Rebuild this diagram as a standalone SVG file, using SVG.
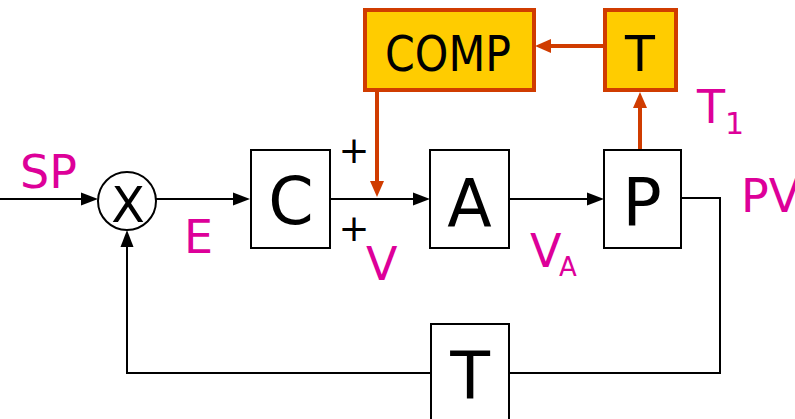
<svg xmlns="http://www.w3.org/2000/svg" width="795" height="419" viewBox="0 0 795 419">
<style>
.box{fill:#ffffff;stroke:#000;stroke-width:2}
.ybox{fill:#ffcc00;stroke:#d03c00;stroke-width:4}
.ln{fill:none;stroke:#000;stroke-width:2}
.rl{fill:none;stroke:#d03c00;stroke-width:4}
.ah{fill:#000}
.rh{fill:#d03c00}
.t{font-family:"DejaVu Sans","Liberation Sans",sans-serif;fill:#000}
.lab{font-family:"DejaVu Sans","Liberation Sans",sans-serif;fill:#dd0099}
</style>
<g id="connectors">
<path class="ln" d="M0,199 H84"/>
<polygon class="ah" points="98,199 81,192.5 81,205.5"/>
<path class="ln" d="M156,199 H236"/>
<polygon class="ah" points="250,199 233,192.5 233,205.5"/>
<path class="ln" d="M330,199 H416"/>
<polygon class="ah" points="430,199 413,192.5 413,205.5"/>
<path class="ln" d="M509,199 H590"/>
<polygon class="ah" points="604,199 587,192.5 587,205.5"/>
<path class="ln" d="M681,198 H720 V373 H509"/>
<path class="ln" d="M431,373 H127 V244"/>
<polygon class="ah" points="127,230 120.5,247 133.5,247"/>
<path class="rl" d="M377,91 V184"/>
<polygon class="rh" points="377,197 370,181 384,181"/>
<path class="rl" d="M604,46 H548"/>
<polygon class="rh" points="535,46 551,39 551,53"/>
<path class="rl" d="M640,150 V105"/>
<polygon class="rh" points="640,92 633,108 647,108"/>
</g>
<g id="sum">
<circle cx="127" cy="201" r="29" fill="#fff" stroke="#000" stroke-width="2"/>
<text class="t" x="128" y="222" font-size="49" text-anchor="middle">X</text>
</g>
<g id="C">
<rect class="box" x="251" y="150" width="79" height="98"/>
<text class="t" x="291" y="224" font-size="65" text-anchor="middle">C</text>
</g>
<g id="A">
<rect class="box" x="430" y="150" width="79" height="98"/>
<text class="t" x="469.5" y="226" font-size="65" text-anchor="middle">A</text>
</g>
<g id="P">
<rect class="box" x="604" y="150" width="77" height="98"/>
<text class="t" x="642" y="225" font-size="65" text-anchor="middle">P</text>
</g>
<g id="T-feedback">
<rect class="box" x="431" y="324" width="78" height="110"/>
<text class="t" x="470" y="399" font-size="65" text-anchor="middle">T</text>
</g>
<g id="COMP">
<rect class="ybox" x="365" y="10" width="169" height="80"/>
<text class="t" x="385" y="71" font-size="49" textLength="126" lengthAdjust="spacingAndGlyphs">COMP</text>
</g>
<g id="T-top">
<rect class="ybox" x="605" y="10" width="71" height="80"/>
<text class="t" x="640" y="71" font-size="49" text-anchor="middle">T</text>
</g>
<g id="labels">
<text class="lab" x="20" y="188" font-size="46">SP</text>
<text class="lab" x="184" y="253" font-size="46">E</text>
<text class="t" x="354" y="163" font-size="37" text-anchor="middle">+</text>
<text class="t" x="354" y="241" font-size="37" text-anchor="middle">+</text>
<text class="lab" x="366" y="280" font-size="46">V</text>
<text class="lab" x="530" y="267" font-size="46">V</text>
<text class="lab" x="559" y="276" font-size="26">A</text>
<text class="lab" x="697" y="123" font-size="46">T</text>
<text class="lab" x="725" y="134" font-size="30">1</text>
<text class="lab" x="741" y="212" font-size="46">PV</text>
</g>
</svg>
